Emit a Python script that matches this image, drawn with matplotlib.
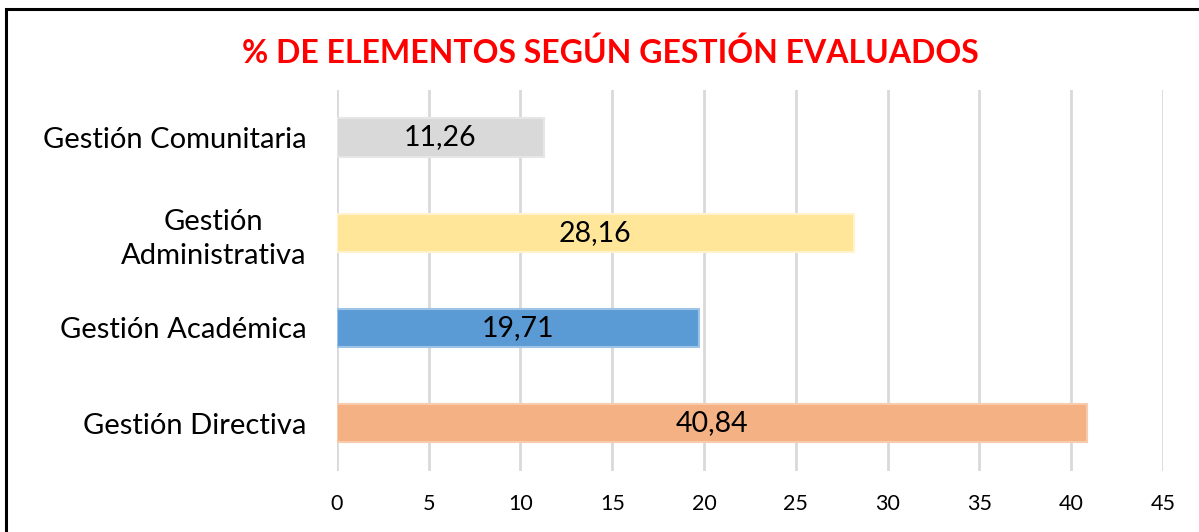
import matplotlib.pyplot as plt
from matplotlib.patches import Rectangle

# data
categorias = ['Gestión Directiva', 'Gestión Académica', 'Gestión\nAdministrativa', 'Gestión Comunitaria']
valores = [40.84, 19.71, 28.16, 11.26]
etiquetas = ['40,84', '19,71', '28,16', '11,26']
colores = ['#F4B183', '#5B9BD5', '#FFE699', '#D9D9D9']
bordes = ['#F8CBAD', '#9DC3E6', '#FFF2CC', '#E7E6E6']
xticks = [0, 5, 10, 15, 20, 25, 30, 35, 40, 45]

plt.rcParams['font.family'] = ['Lato', 'DejaVu Sans']

fig = plt.figure(figsize=(11.99, 5.32), dpi=100)
ax = fig.add_axes([0.281, 0.115, 0.689, 0.716])

# outer chart border (only top/left visible in the reference)
fig.patches.append(Rectangle((0.005, -0.1), 1.2, 1.083, transform=fig.transFigure,
                             fill=False, edgecolor='black', linewidth=2.2, zorder=10))

ypos = range(len(categorias))
ax.barh(ypos, valores, height=0.4, color=colores, edgecolor=bordes, linewidth=1.5, zorder=3)
for y, v, t in zip(ypos, valores, etiquetas):
    ax.text(v / 2, y, t, ha='center', va='center', fontsize=20.5, color='black', zorder=4)

ax.set_xlim(0, 45)
ax.set_ylim(-0.5, 3.5)
ax.set_xticks(xticks)
ax.set_xticklabels([str(x) for x in xticks], fontsize=15.5)
ax.set_yticks(list(ypos))
ax.set_yticklabels(categorias, fontsize=21, linespacing=1.35)
for lbl in ax.get_yticklabels():
    lbl.set_multialignment('center')
ax.tick_params(axis='both', length=0)
ax.tick_params(axis='x', pad=17)
ax.tick_params(axis='y', pad=22)
ax.grid(axis='x', color='#D9D9D9', linewidth=2, zorder=0)
for s in ax.spines.values():
    s.set_visible(False)

fig.text(0.509, 0.9, '% DE ELEMENTOS SEGÚN GESTIÓN EVALUADOS', ha='center', va='center',
         fontsize=23, fontweight='bold', color='#FF0000')

fig.savefig('out.png', dpi=100)
